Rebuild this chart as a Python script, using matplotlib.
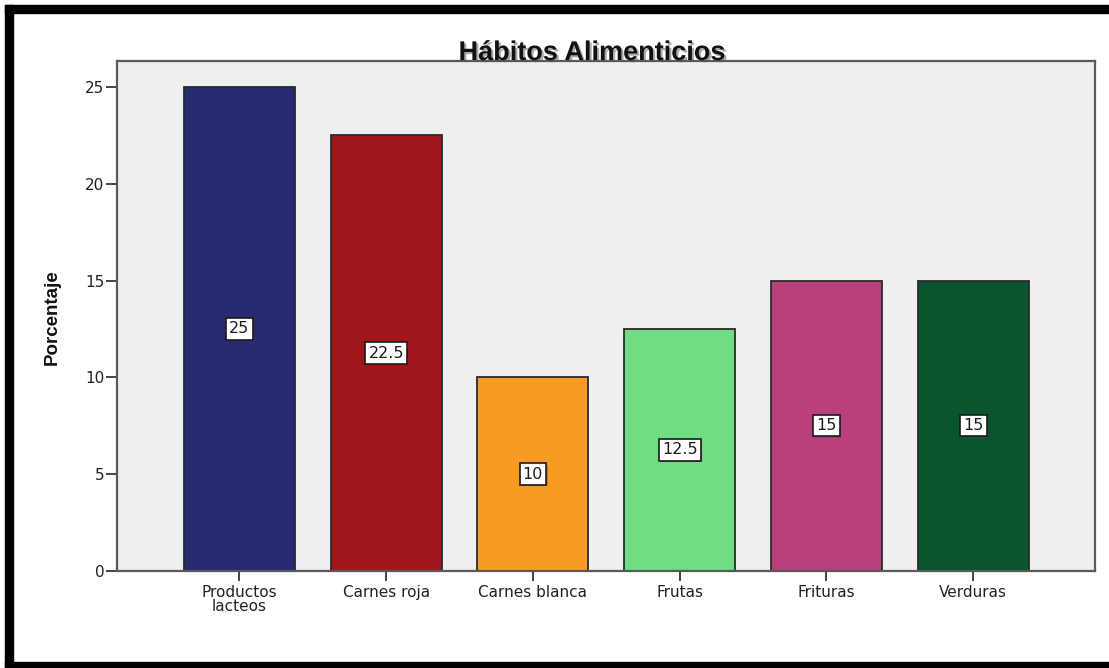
import matplotlib.pyplot as plt
import matplotlib.patheffects as pe
from matplotlib.patches import Rectangle
import numpy as np

# Datos
categorias = ['Productos\nlacteos', 'Carnes roja', 'Carnes blanca',
              'Frutas', 'Frituras', 'Verduras']
porcentajes = [25, 22.5, 10, 12.5, 15, 15]
colores = ['#282A72', '#A0171B', '#F89B20', '#70DD84', '#BA3F7D', '#0B552E']
yticks = [0, 5, 10, 15, 20, 25]

W, H = 1109, 668
fig = plt.figure(figsize=(W / 100, H / 100), dpi=100)
fig.patch.set_facecolor('white')

bold_font = ['Liberation Sans', 'DejaVu Sans']

# marco negro (izquierda, arriba, abajo)
for x0, y0, w, h in [(5, 5, 8, 663), (5, 5, W - 5, 8), (5, 662, W - 5, 6)]:
    fig.patches.append(Rectangle((x0 / W, 1 - (y0 + h) / H), w / W, h / H,
                                 transform=fig.transFigure, color='black',
                                 zorder=10))

ax = fig.add_axes([117 / W, 1 - 571 / H, (1095 - 117) / W, (571 - 61) / H])
ax.set_facecolor('#EFEFEF')

x = np.arange(len(categorias))
ax.bar(x, porcentajes, width=0.756, color=colores, edgecolor='#2a2a2a',
       linewidth=1.3, zorder=2)

# etiquetas de valor en el centro de cada barra
for xi, v in zip(x, porcentajes):
    ax.text(xi, v / 2, f'{v:g}', ha='center', va='center', fontsize=11.5,
            color='#1a1a1a', zorder=3,
            bbox=dict(boxstyle='square,pad=0.2', fc='white', ec='#1a1a1a',
                      lw=1.2,
                      path_effects=[pe.SimplePatchShadow(offset=(1, -1),
                                                         alpha=0.4),
                                    pe.Normal()]))

ax.set_xlim(-0.834, 5.83)
ax.set_ylim(0, 26.34)
ax.set_yticks(yticks)
ax.set_yticklabels([str(t) for t in yticks])
ax.set_xticks(x)
ax.set_xticklabels(categorias, linespacing=0.9)

for s in ax.spines.values():
    s.set_color('#5a5a5a')
    s.set_linewidth(1.6)

ax.tick_params(axis='y', length=8, width=1.4, color='#444444', pad=1,
               labelsize=11, labelcolor='#222222')
ax.tick_params(axis='x', length=7, width=1.4, color='#444444', pad=3,
               labelsize=11, labelcolor='#222222')

fig.text(52 / W, 1 - 317 / H, 'Porcentaje', rotation=90, ha='center',
         va='center', fontsize=13.5, fontweight='bold', family=bold_font,
         color='#111111')

fig.text(592 / W, 1 - 60 / H, 'Hábitos Alimenticios', ha='center',
         va='baseline', fontsize=19.5, fontweight='bold', family=bold_font,
         color='#111111', zorder=5,
         path_effects=[pe.SimplePatchShadow(offset=(1.5, -1.5),
                                            shadow_rgbFace='#555555',
                                            alpha=0.5),
                       pe.Normal()])

fig.savefig('out.png', dpi=100)
